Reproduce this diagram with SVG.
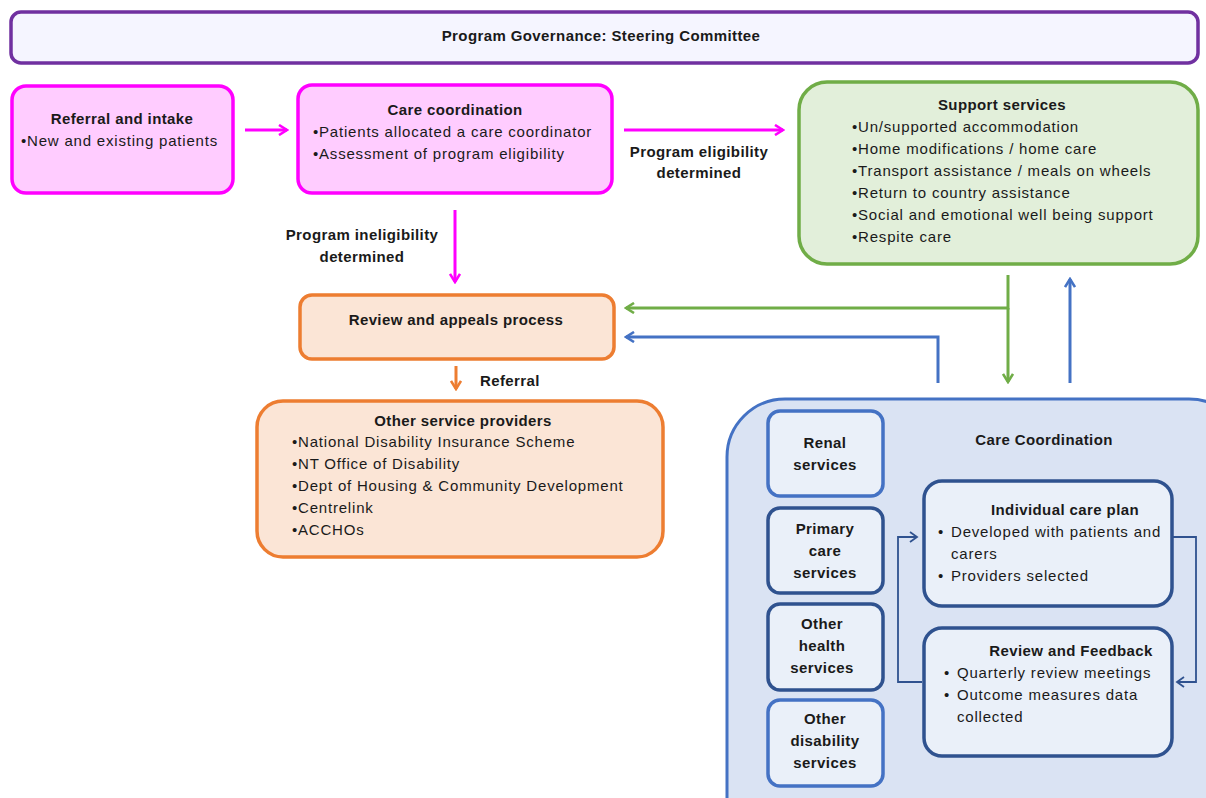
<svg xmlns="http://www.w3.org/2000/svg" width="1206" height="798" viewBox="0 0 1206 798">
<defs>
<style>
text{font-family:"Liberation Sans",Arial,sans-serif;font-size:15px;fill:#1a1a1a;letter-spacing:0.8px}
.b{font-weight:bold;letter-spacing:0.4px}
.c{text-anchor:middle}
.pink{fill:#FFCCFF;stroke:#FF00FF;stroke-width:3.5}
.org{fill:#FBE5D6;stroke:#ED7D31;stroke-width:3.5}
.sm{fill:#EAF0F9;stroke-width:3.5}
</style>
<marker id="mp" viewBox="0 0 12 12" refX="10" refY="6" markerWidth="12" markerHeight="12" markerUnits="userSpaceOnUse" orient="auto"><path d="M2,1 L10,6 L2,11" fill="none" stroke="#FF00FF" stroke-width="2.6"/></marker>
<marker id="mg" viewBox="0 0 12 12" refX="10" refY="6" markerWidth="12" markerHeight="12" markerUnits="userSpaceOnUse" orient="auto"><path d="M2,1 L10,6 L2,11" fill="none" stroke="#70AD47" stroke-width="2.6"/></marker>
<marker id="mb" viewBox="0 0 12 12" refX="10" refY="6" markerWidth="12" markerHeight="12" markerUnits="userSpaceOnUse" orient="auto"><path d="M2,1 L10,6 L2,11" fill="none" stroke="#4472C4" stroke-width="2.6"/></marker>
<marker id="mo" viewBox="0 0 12 12" refX="10" refY="6" markerWidth="12" markerHeight="12" markerUnits="userSpaceOnUse" orient="auto"><path d="M2,1 L10,6 L2,11" fill="none" stroke="#ED7D31" stroke-width="2.6"/></marker>
<marker id="md" viewBox="0 0 12 12" refX="10" refY="6" markerWidth="12" markerHeight="12" markerUnits="userSpaceOnUse" orient="auto"><path d="M3,1 L10,6 L3,11" fill="none" stroke="#2F528F" stroke-width="1.8"/></marker>
</defs>
<rect width="1206" height="798" fill="#ffffff"/>

<g id="governance">
<rect x="11" y="12" width="1187" height="51" rx="10" fill="#F5F5FF" stroke="#7030A0" stroke-width="3.5"/>
<text class="b c" x="601" y="41">Program Governance: Steering Committee</text>
</g>

<g id="referral">
<rect class="pink" x="12" y="86" width="221" height="107" rx="14"/>
<text class="b c" x="122" y="124">Referral and intake</text>
<text x="21" y="146">•New  and existing patients</text>
</g>

<g id="carecoord">
<rect class="pink" x="298" y="85" width="314" height="108" rx="14"/>
<text class="b c" x="455" y="115">Care coordination</text>
<text x="313" y="137">•Patients allocated a care coordinator</text>
<text x="313" y="159">•Assessment of program eligibility</text>
</g>

<g id="support">
<rect x="799" y="82" width="399" height="182" rx="28" fill="#E2EFDA" stroke="#70AD47" stroke-width="3.5"/>
<text class="b c" x="1002" y="110">Support services</text>
<text x="852" y="132">•Un/supported accommodation</text>
<text x="852" y="154">•Home  modifications / home care</text>
<text x="852" y="176">•Transport assistance / meals on wheels</text>
<text x="852" y="198">•Return to country assistance</text>
<text x="852" y="220">•Social and emotional well being support</text>
<text x="852" y="242">•Respite care</text>
</g>

<g id="review">
<rect class="org" x="300" y="295" width="314" height="64" rx="12"/>
<text class="b c" x="456" y="325">Review and appeals process</text>
</g>

<g id="others">
<rect class="org" x="257" y="401" width="406" height="156" rx="26"/>
<text class="b c" x="463" y="426">Other service providers</text>
<text x="292" y="447">•National Disability Insurance Scheme</text>
<text x="292" y="469">•NT Office of Disability</text>
<text x="292" y="491">•Dept of Housing &amp; Community Development</text>
<text x="292" y="513">•Centrelink</text>
<text x="292" y="535">•ACCHOs</text>
</g>

<g id="carecoordination">
<rect x="727" y="399" width="520" height="460" rx="58" fill="#DAE3F3" stroke="#4472C4" stroke-width="3"/>
<text class="b c" x="1044" y="445">Care Coordination</text>
</g>

<g id="renal">
<rect class="sm" x="768" y="411" width="115" height="85" rx="12" stroke="#4472C4"/>
<text class="b c" x="825" y="448">Renal</text>
<text class="b c" x="825" y="470">services</text>
</g>
<g id="primary">
<rect class="sm" x="768" y="508" width="115" height="85" rx="12" stroke="#2F528F"/>
<text class="b c" x="825" y="534">Primary</text>
<text class="b c" x="825" y="556">care</text>
<text class="b c" x="825" y="578">services</text>
</g>
<g id="otherhealth">
<rect class="sm" x="768" y="604" width="115" height="86" rx="12" stroke="#2F528F"/>
<text class="b c" x="822" y="629">Other</text>
<text class="b c" x="822" y="651">health</text>
<text class="b c" x="822" y="673">services</text>
</g>
<g id="otherdisability">
<rect class="sm" x="768" y="700" width="115" height="86" rx="12" stroke="#4472C4"/>
<text class="b c" x="825" y="724">Other</text>
<text class="b c" x="825" y="746">disability</text>
<text class="b c" x="825" y="768">services</text>
</g>

<g id="careplan">
<rect class="sm" x="924" y="481" width="248" height="125" rx="18" stroke="#2F528F"/>
<text class="b c" x="1065" y="515">Individual  care plan</text>
<text x="938" y="537">•</text><text x="951" y="537">Developed  with patients and</text>
<text x="951" y="559">carers</text>
<text x="938" y="581">•</text><text x="951" y="581">Providers selected</text>
</g>

<g id="feedback">
<rect class="sm" x="924" y="628" width="248" height="128" rx="18" stroke="#2F528F"/>
<text class="b c" x="1071" y="656">Review and Feedback</text>
<text x="944" y="678">•</text><text x="957" y="678">Quarterly review meetings</text>
<text x="944" y="700">•</text><text x="957" y="700">Outcome  measures data</text>
<text x="957" y="722">collected</text>
</g>

<g id="connectors" fill="none">
<line x1="245" y1="130" x2="287" y2="130" stroke="#FF00FF" stroke-width="3" marker-end="url(#mp)"/>
<line x1="624" y1="130" x2="783" y2="130" stroke="#FF00FF" stroke-width="3" marker-end="url(#mp)"/>
<line x1="455" y1="210" x2="455" y2="282" stroke="#FF00FF" stroke-width="3" marker-end="url(#mp)"/>
<polyline points="1008,275 1008,308 626,308" stroke="#70AD47" stroke-width="3" marker-end="url(#mg)"/>
<line x1="1008" y1="308" x2="1008" y2="382" stroke="#70AD47" stroke-width="3" marker-end="url(#mg)"/>
<polyline points="938,383 938,337 626,337" stroke="#4472C4" stroke-width="3" marker-end="url(#mb)"/>
<line x1="1070" y1="383" x2="1070" y2="279" stroke="#4472C4" stroke-width="3" marker-end="url(#mb)"/>
<line x1="456" y1="366" x2="456" y2="389" stroke="#ED7D31" stroke-width="3" marker-end="url(#mo)"/>
<polyline points="922,682 898,682 898,537 917,537" stroke="#2F528F" stroke-width="1.8" marker-end="url(#md)"/>
<polyline points="1173,537 1196,537 1196,682 1177,682" stroke="#2F528F" stroke-width="1.8" marker-end="url(#md)"/>
</g>

<g id="labels">
<text class="b c" x="699" y="157">Program eligibility</text>
<text class="b c" x="699" y="178">determined</text>
<text class="b c" x="362" y="240">Program ineligibility</text>
<text class="b c" x="362" y="262">determined</text>
<text class="b" x="480" y="386">Referral</text>
</g>
</svg>
